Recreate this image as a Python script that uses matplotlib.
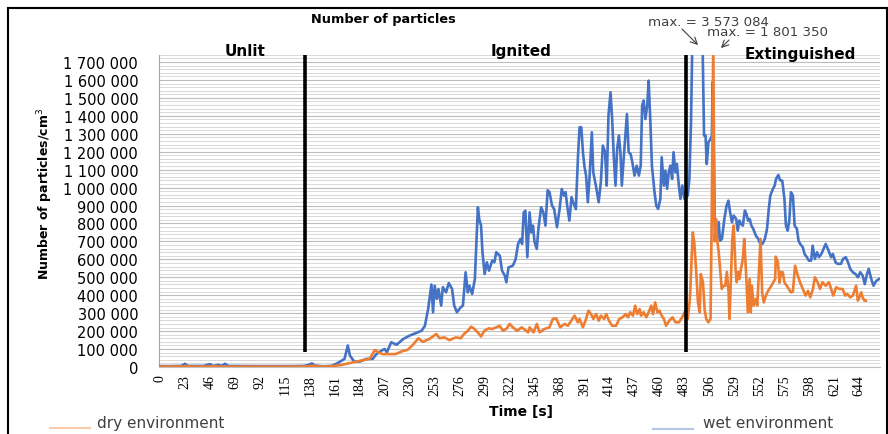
import matplotlib
matplotlib.use("Agg")
import matplotlib.pyplot as plt
from matplotlib.lines import Line2D
from matplotlib.patches import Rectangle, FancyArrowPatch
from matplotlib.ticker import MultipleLocator, FuncFormatter

# ---------------- data (values in thousands of particles/cm3) ----------------
wet_t = [0, 10, 20, 23, 26, 40, 46, 49, 54, 57, 60, 63, 90, 120, 133, 137, 140, 143, 150, 158,
         163, 166, 170, 173, 175, 179, 184, 190, 196, 199, 202, 205, 207, 209, 213, 218, 224, 230,
         236, 241, 244, 247, 250, 251.5, 253, 255, 256.5, 259, 260.5, 263.5, 266, 269, 271, 273.5,
         277, 279, 281.5, 283.5, 285, 287.5, 290, 292.8, 294, 295.7, 297, 299, 301, 303, 306, 308,
         309.7, 313, 315, 317.5, 319, 321, 325, 327.5, 329.8, 332, 333.5, 335, 336.5, 338.3, 340.4,
         342, 343.5, 345, 347, 348.5, 351, 353, 355, 357, 358.7, 361, 363, 365.6, 368, 370, 372,
         373.5, 375, 377, 379, 380.5, 383, 384.9, 386.4, 388, 389.5, 391, 392.4, 394, 395.5, 397.7,
         399, 401.7, 404, 406, 407.8, 409.9, 411.4, 413, 414.9, 416.4, 418, 419.5, 421, 422.6, 424,
         425.3, 427, 428.9, 430, 431.6, 433.4, 435, 437, 439, 441, 442.7, 444, 445.4, 447, 448.7,
         450, 451.6, 453, 455.4, 457, 458.7, 460.8, 462, 464, 465.4, 467, 468.5, 470, 471.6, 472.9,
         474.7, 476, 477.8, 479.3, 481, 483, 486, 487.5, 489, 495, 501, 502.4, 503.5, 505, 507,
         508.2, 509, 511, 513, 514.5, 515.7, 517.5, 519.7, 521.8, 523.4, 525, 526.7, 528.3, 530.6,
         532, 533.5, 535, 536.7, 538.6, 540, 541.5, 543, 544.6, 546.3, 548.7, 551, 552, 554.8, 557,
         559, 560.6, 562, 564.4, 566, 567.3, 569.4, 571, 573, 575, 576.4, 578, 579.5, 581, 582.8,
         584.4, 586.5, 588, 589.5, 592, 593.5, 595.7, 597.5, 599.6, 601, 603, 605, 606.8, 609, 611,
         613, 615, 618, 619.6, 622, 624, 627, 629, 631.5, 633.5, 635.6, 638, 640.5, 642.6, 644.8,
         647, 649, 651, 652.6, 655, 657, 659.6, 662]
wet_v = [5, 5, 6, 18, 6, 6, 16, 6, 12, 6, 18, 6, 5, 5, 6, 12, 20, 8, 4, 6,
         20, 30, 45, 120, 63, 30, 30, 45, 45, 70, 82, 95, 100, 82, 138, 124, 156, 175,
         190, 202, 230, 323, 460, 305, 453, 380, 435, 342, 445, 416, 468, 435, 342, 305,
         333, 342, 528, 416, 453, 407, 490, 890, 825, 788, 640, 518, 584, 537, 593, 584,
         640, 620, 537, 510, 472, 555, 565, 600, 686, 714, 686, 862, 871, 612, 862,
         750, 788, 695, 658, 770, 890, 862, 788, 985, 975, 900, 880, 779, 880, 992, 955,
         975, 900, 816, 946, 918, 880, 1169, 1336, 1336, 1197, 1113, 1067, 918, 1048, 1308,
         1085, 1002, 918, 1030, 1234, 1197, 1011, 1401, 1531, 1382, 1160, 1011, 1215, 1290, 1197,
         1011, 1160, 1317, 1410, 1197, 1187, 1141, 1067, 1122, 1067, 1122, 1457, 1485, 1382, 1457,
         1596, 1364, 1122, 974, 900, 881, 937, 1169, 1011, 1095, 993, 1085, 1122, 1048, 1197,
         1085, 1132, 1011, 937, 1011, 937, 955, 1048, 1364, 3573.084, 1290, 1290, 1131, 1252, 1271,
         1290, 1587, 770, 714, 807, 704, 714, 825, 900, 927, 862, 807, 844, 825,
         760, 816, 797, 788, 872, 853, 816, 825, 788, 770, 732, 714, 695, 686, 714,
         770, 881, 955, 993, 1011, 1048, 1070, 1040, 1039, 937, 788, 760, 816, 974, 955,
         788, 770, 704, 686, 667, 630, 612, 593, 593, 676, 602, 640, 612, 630, 658,
         686, 658, 612, 630, 584, 575, 575, 602, 612, 584, 547, 528, 518, 500, 528,
         510, 462, 518, 547, 490, 453, 480, 490]

dry_t = [0, 10, 20, 25, 28, 45, 50, 55, 90, 120, 135, 143, 147, 155, 166, 175, 184, 193, 198, 201,
         205, 211, 217, 224, 228, 233, 238, 242, 248, 254.5, 257.5, 262, 266.5, 272.6, 277, 280,
         283.6, 286.6, 289.6, 292.7, 295.7, 298.7, 302.7, 306, 309.7, 312.8, 316, 319.4, 322, 325,
         329, 333, 336, 339, 340.4, 344, 347, 349.6, 354, 358.7, 361.8, 364.9, 368.6, 372.6, 375.7,
         378.7, 381.8, 384.8, 386.4, 389.5, 392.4, 394.6, 397, 399, 401.7, 404, 406, 409, 411, 413.5,
         416.4, 420, 423, 426, 428.9, 431, 433, 435.6, 437.6, 439.5, 441.7, 443, 445.4, 447.8, 450,
         452.4, 454, 456, 458, 460, 462, 464, 466, 469, 472, 474.7, 477.8, 481, 483, 486, 488,
         490.6, 492, 493.8, 495.4, 497, 498, 500, 501.5, 503, 505, 507, 508, 509.5, 510.8, 512,
         513, 514.5, 516, 517.3, 519, 520.5, 522, 523.6, 524.4, 526, 527, 528.3, 530, 531, 532.3,
         533.5, 535, 536.7, 538, 540, 541.3, 543, 544, 545, 546.7, 548.7, 550, 551.8, 553, 554.5,
         556, 558, 560, 563, 566.5, 567, 569, 570.5, 572, 573.5, 575, 578, 581, 582.8, 584.8, 587.3,
         589.4, 592, 594.5, 596.7, 598.8, 601.3, 603, 605.6, 607.8, 610, 613, 616, 618, 620, 622.6,
         625.6, 628.6, 631, 633, 635.6, 638, 641, 642.6, 644, 645.7, 647, 648.7, 650]
dry_v = [2, 3, 2, 6, 2, 3, 5, 2, 2, 2, 3, 8, 2, 3, 10, 22, 34, 45, 95, 82,
         72, 72, 72, 90, 95, 124, 160, 140, 156, 184, 160, 165, 150, 165, 160, 184,
         202, 225, 212, 193, 170, 202, 215, 212, 221, 230, 202, 215, 240, 221,
         202, 221, 208, 193, 221, 193, 240, 193, 212, 221, 268, 271, 221, 240, 230,
         258, 286, 249, 268, 221, 268, 314, 295, 268, 295, 258, 286, 268, 295, 258,
         230, 230, 268, 277, 295, 277, 305, 286, 342, 295, 323, 286, 305, 277, 305,
         342, 295, 360, 305, 314, 286, 268, 230, 258, 277, 249, 249, 277, 305, 268, 380,
         750, 695, 530, 360, 305, 518, 472, 323, 268, 249, 268, 806, 1801.35, 700, 825,
         714, 640, 530, 435, 453, 453, 530, 416, 268, 530, 714, 788, 547, 472, 530,
         490, 547, 602, 714, 490, 305, 490, 305, 453, 342, 380, 342, 565, 714, 416,
         360, 398, 425, 453, 490, 615, 584, 470, 530, 528, 472, 445, 416, 420, 565, 510,
         472, 435, 398, 425, 388, 435, 500, 472, 435, 472, 453, 472, 435, 398, 444,
         435, 435, 398, 407, 388, 398, 453, 370, 388, 416, 388, 370, 370]

x_ticks = list(range(0, 645, 23))
phase_bounds = [133.4, 484]
phase_names = ["Unlit", "Ignited", "Extinguished"]
series_names = ["dry environment", "wet environment"]
max_labels = ["max. = 3 573 084", "max. = 1 801 350"]

# ---------------- figure ----------------
W, H = 888, 435
fig = plt.figure(figsize=(W / 100, H / 100), dpi=100)

def fx(px):
    return px / W

def fy(py):
    return 1 - py / H

x_left, x_right = 159, 880
y_zero, y_top = 368, 55.8
ax = fig.add_axes([fx(x_left), fy(y_zero), fx(x_right - x_left), (y_zero - y_top) / H])

BLUE = "#4472C4"
ORANGE = "#ED7D31"

ax.plot(wet_t, [v * 1000 for v in wet_v], color=BLUE, lw=1.9, solid_joinstyle="round", zorder=3)
ax.plot(dry_t, [v * 1000 for v in dry_v], color=ORANGE, lw=1.9, solid_joinstyle="round", zorder=4)

YMAX = 1740000
for b in phase_bounds:
    ax.plot([b, b], [85000, YMAX], color="black", lw=2.6, zorder=5, solid_capstyle="butt")

ax.set_xlim(-0.8, 663)
ax.set_ylim(0, YMAX)

ax.yaxis.set_major_locator(MultipleLocator(100000))
ax.yaxis.set_minor_locator(MultipleLocator(20000))
ax.yaxis.set_major_formatter(FuncFormatter(lambda v, p: f"{int(round(v)):,}".replace(",", " ")))
ax.grid(axis="y", which="major", color="#bdbdbd", lw=0.8, zorder=0)
ax.grid(axis="y", which="minor", color="#d9d9d9", lw=0.7, zorder=0)
ax.set_axisbelow(True)
for s in ["top", "right"]:
    ax.spines[s].set_visible(False)
ax.spines["left"].set_color("#a6a6a6")
ax.spines["bottom"].set_color("#bfbfbf")
ax.spines["left"].set_linewidth(0.8)

ax.set_xticks(x_ticks)
ax.set_xticklabels([str(t) for t in x_ticks], rotation=90, family="Liberation Serif", fontsize=10)
ax.tick_params(axis="x", length=0, pad=5)
ax.tick_params(axis="y", which="both", length=0, pad=15, labelsize=10.5)
for lab in ax.get_yticklabels():
    lab.set_family("DejaVu Sans")

# ---------------- texts ----------------
fig.text(fx(383), fy(20), "Number of particles", ha="center", va="center",
         fontsize=9.3, fontweight="bold")
fig.text(fx(245), fy(52), phase_names[0], ha="center", va="center", fontsize=11, fontweight="bold")
fig.text(fx(521), fy(52), phase_names[1], ha="center", va="center", fontsize=11, fontweight="bold")
fig.text(fx(800), fy(55), phase_names[2], ha="center", va="center", fontsize=11, fontweight="bold")
fig.text(fx(45), fy(194), "Number of particles/cm$^3$", rotation=90, ha="center", va="center",
         fontsize=9, fontweight="bold")
fig.text(fx(521), fy(412), "Time [s]", ha="center", va="center", fontsize=10, fontweight="bold")

# max annotations
fig.text(fx(708), fy(23), max_labels[0], ha="center", va="center", fontsize=9.6, color="#404040")
fig.text(fx(767), fy(33), max_labels[1], ha="center", va="center", fontsize=9.6, color="#404040")
fig.add_artist(FancyArrowPatch((fx(680), fy(28)), (fx(700), fy(48)),
               transform=fig.transFigure, arrowstyle="->", mutation_scale=12, lw=0.8, color="#404040"))
fig.add_artist(FancyArrowPatch((fx(731), fy(39)), (fx(719), fy(51)),
               transform=fig.transFigure, arrowstyle="->", mutation_scale=12, lw=0.8, color="#404040"))

# legend
fig.add_artist(Line2D([fx(50), fx(90)], [fy(429), fy(429)], transform=fig.transFigure,
                      color="#F8CBAD", lw=1.5))
fig.text(fx(97), fy(424), series_names[0], ha="left", va="center", fontsize=11, color="#404040")
fig.add_artist(Line2D([fx(653), fx(693)], [fy(430), fy(430)], transform=fig.transFigure,
                      color="#B4C7E7", lw=1.5))
fig.text(fx(703), fy(424), series_names[1], ha="left", va="center", fontsize=11, color="#404040")

# frame around chart
fig.add_artist(Rectangle((fx(8), fy(445)), fx(887 - 8), (445 - 9) / H, transform=fig.transFigure,
                         fill=False, edgecolor="black", lw=1.5))

fig.savefig("out.png", dpi=100)
